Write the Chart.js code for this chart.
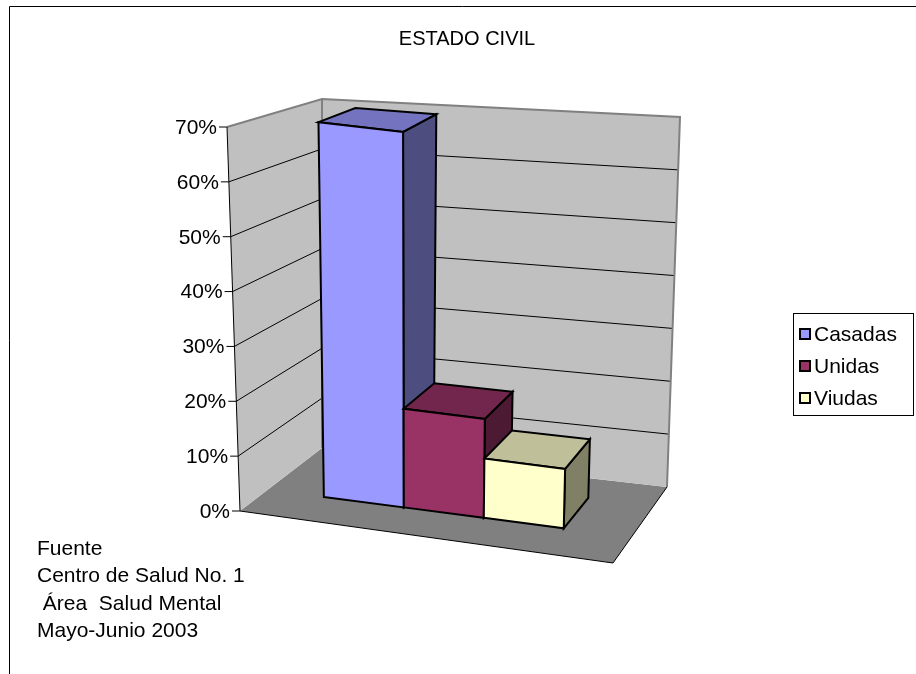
<!DOCTYPE html>
<html>
<head>
<meta charset="utf-8">
<title>Estado civil</title>
<script src="https://cdn.jsdelivr.net/npm/chart.js@4.4.1/dist/chart.umd.min.js"></script>
<style>
  html, body { margin: 0; padding: 0; background: #fff; }
  #wrap { width: 916px; height: 674px; }
</style>
</head>
<body>
<div id="wrap"><canvas id="chart" width="916" height="674"></canvas></div>
<script>
const categories = ['Estado civil'];
const seriesNames = ['Casadas', 'Unidas', 'Viudas'];
const casadas = [0.704];
const unidas = [0.185];
const viudas = [0.111];
const yMin = 0, yMax = 0.7, yStep = 0.1;
const chartTitle = 'ESTADO CIVIL';
const sourceLines = ['Fuente', 'Centro de Salud No. 1', ' Área  Salud Mental', 'Mayo-Junio 2003'];

const FONT = '"Liberation Sans", Arial, sans-serif';
const frontColors = ['#9999FF', '#993366', '#FFFFCC'];
const topColors = ['#7373BF', '#73264D', '#BFBF99'];
const sideColors = ['#4D4D80', '#4D1A33', '#808066'];
const barDepth = [0.34, 0.755]; // front and back of the columns, as share of floor depth
const barShift = -0.016;        // columns sit a little left of the floor centre

// corners of the 3D box, placed around the chart area
function frameCorners(a){
  const L = a.left, R = a.right, T = a.top, B = a.bottom;
  return {
    flb: [L + 13, B],      flt: [L, T],
    frb: [R + 1, B + 52],  frt: [R + 13, T + 58],
    blb: [L + 95, B - 63], blt: [L + 95, T - 28],
    brb: [R + 55, B - 24], brt: [R + 68, T - 10]
  };
}

function lerp(p, q, t){
  return [p[0] + (q[0] - p[0]) * t, p[1] + (q[1] - p[1]) * t];
}

// u: left->right, h: floor->top, w: front->back (all 0..1)
function project(c, u, h, w){
  const bot = lerp(lerp(c.flb, c.frb, u), lerp(c.blb, c.brb, u), w);
  const top = lerp(lerp(c.flt, c.frt, u), lerp(c.blt, c.brt, u), w);
  return lerp(bot, top, h);
}

function poly(ctx, pts, fill, stroke, lw){
  ctx.beginPath();
  pts.forEach((p, i) => i ? ctx.lineTo(p[0], p[1]) : ctx.moveTo(p[0], p[1]));
  ctx.closePath();
  if (fill){ ctx.fillStyle = fill; ctx.fill(); }
  if (stroke){ ctx.strokeStyle = stroke; ctx.lineWidth = lw || 1; ctx.stroke(); }
}

function line(ctx, pts, color, lw){
  ctx.beginPath();
  pts.forEach((p, i) => i ? ctx.lineTo(p[0], p[1]) : ctx.moveTo(p[0], p[1]));
  ctx.strokeStyle = color;
  ctx.lineWidth = lw || 1;
  ctx.stroke();
}

const fmtPct = v => Math.round(v * 100) + '%';

const threeD = {
  id: 'threeD',
  beforeDatasetsDraw(chart){
    const ctx = chart.ctx, a = chart.chartArea, ys = chart.scales.y;
    const c = frameCorners(a);
    const P = (u, h, w) => project(c, u, h, w);
    const hOf = v => (a.bottom - ys.getPixelForValue(v)) / (a.bottom - a.top);
    ctx.save();
    ctx.lineJoin = 'miter';

    // floor and walls
    poly(ctx, [P(0,0,0), P(1,0,0), P(1,0,1), P(0,0,1)], '#808080');
    poly(ctx, [P(0,0,1), P(0,1,1), P(1,1,1), P(1,0,1)], '#C0C0C0');
    poly(ctx, [P(0,0,0), P(0,1,0), P(0,1,1), P(0,0,1)], '#C0C0C0');

    // gridlines on the walls
    ys.ticks.forEach(t => {
      if (t.value <= yMin || t.value >= yMax) return;
      const h = hOf(t.value);
      line(ctx, [P(0,h,0), P(0,h,1), P(1,h,1)], '#000', 1);
    });

    // wall edges
    line(ctx, [P(0,1,0), P(0,1,1), P(1,1,1), P(1,0,1)], '#808080', 2);
    line(ctx, [P(0,1,1), P(0,0,1)], '#808080', 2);
    // floor edges
    line(ctx, [P(0,0,0), P(1,0,0), P(1,0,1)], '#000', 1);

    // value axis with ticks and labels
    line(ctx, [P(0,0,0), P(0,1,0)], '#000', 1);
    ctx.font = '21px ' + FONT;
    ctx.textAlign = 'right';
    ctx.textBaseline = 'middle';
    ys.ticks.forEach(t => {
      const p = P(0, hOf(t.value), 0);
      line(ctx, [[p[0] - 8, p[1]], p], '#000', 1);
      ctx.fillStyle = '#000';
      ctx.fillText(t.label || fmtPct(t.value), p[0] - 10, p[1] + 1);
    });

    // columns
    const span = a.right - a.left;
    chart.data.datasets.forEach((ds, i) => {
      chart.getDatasetMeta(i).data.forEach(bar => {
        const u0 = (bar.x - bar.width / 2 - a.left) / span + barShift;
        const u1 = (bar.x + bar.width / 2 - a.left) / span + barShift;
        const h = (a.bottom - bar.y) / (a.bottom - a.top);
        const [w0, w1] = barDepth;
        poly(ctx, [P(u1,0,w0), P(u1,0,w1), P(u1,h,w1), P(u1,h,w0)], sideColors[i], '#000', 2);
        poly(ctx, [P(u0,h,w0), P(u1,h,w0), P(u1,h,w1), P(u0,h,w1)], topColors[i], '#000', 2);
        poly(ctx, [P(u0,0,w0), P(u1,0,w0), P(u1,h,w0), P(u0,h,w0)], ds.backgroundColor, '#000', 2);
      });
    });
    ctx.restore();
    return false;
  },
  afterDraw(chart){
    const ctx = chart.ctx;
    ctx.save();
    // outer frame
    ctx.strokeStyle = '#000';
    ctx.lineWidth = 1;
    ctx.beginPath();
    ctx.moveTo(9.5, 674);
    ctx.lineTo(9.5, 6.5);
    ctx.lineTo(916, 6.5);
    ctx.stroke();

    // title
    ctx.fillStyle = '#000';
    ctx.font = '20px ' + FONT;
    ctx.textAlign = 'center';
    ctx.textBaseline = 'middle';
    ctx.fillText(chartTitle, 467, 39);

    // legend
    ctx.strokeRect(793.5, 313.5, 120, 102);
    ctx.font = '21px ' + FONT;
    ctx.textAlign = 'left';
    chart.data.datasets.forEach((ds, i) => {
      const yc = 334 + i * 32;
      ctx.fillStyle = ds.backgroundColor;
      ctx.fillRect(799, yc - 6, 12, 12);
      ctx.lineWidth = 2;
      ctx.strokeRect(800, yc - 5, 10, 10);
      ctx.fillStyle = '#000';
      ctx.fillText(ds.label, 814, yc + 1);
    });

    // source note
    sourceLines.forEach((s, i) => ctx.fillText(s, 37, 549 + i * 27.5));
    ctx.restore();
  }
};

new Chart(document.getElementById('chart'), {
  type: 'bar',
  data: {
    labels: categories,
    datasets: [
      { label: seriesNames[0], data: casadas, backgroundColor: frontColors[0] },
      { label: seriesNames[1], data: unidas, backgroundColor: frontColors[1] },
      { label: seriesNames[2], data: viudas, backgroundColor: frontColors[2] }
    ]
  },
  options: {
    responsive: false,
    animation: false,
    devicePixelRatio: 1,
    layout: { padding: { left: 227, right: 304, top: 127, bottom: 163 } },
    datasets: { bar: { categoryPercentage: 0.66, barPercentage: 1 } },
    scales: {
      x: { display: false },
      y: {
        display: false,
        min: yMin,
        max: yMax,
        ticks: { stepSize: yStep, callback: fmtPct }
      }
    },
    plugins: {
      legend: { display: false },
      title: { display: false },
      tooltip: { enabled: false }
    }
  },
  plugins: [threeD]
});
</script>
</body>
</html>
